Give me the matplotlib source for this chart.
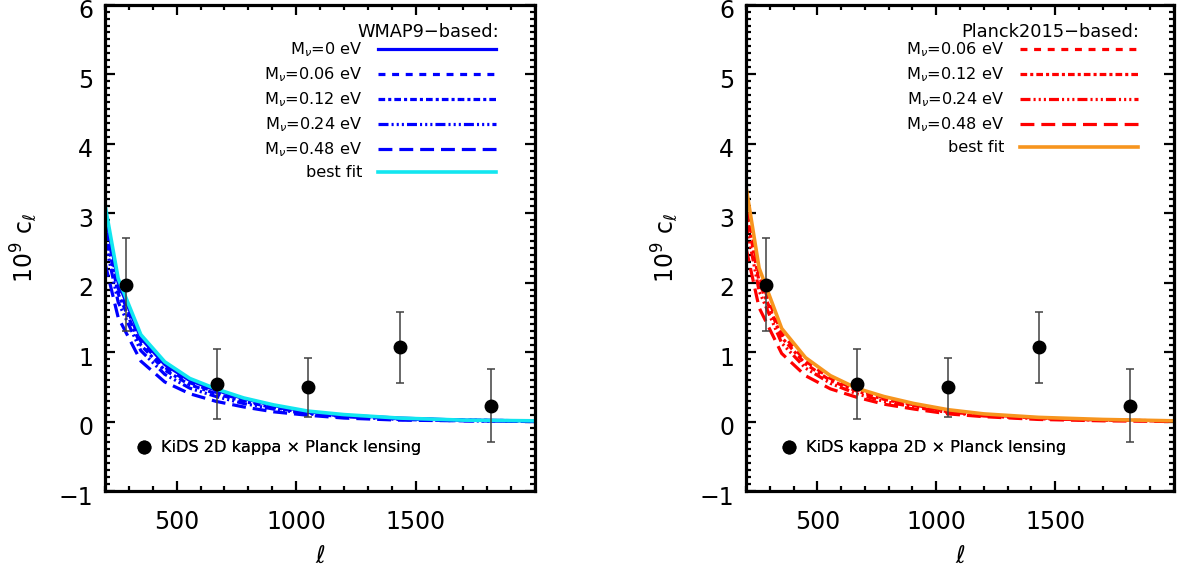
import numpy as np
import matplotlib
matplotlib.use("Agg")
import matplotlib.pyplot as plt
import matplotlib.transforms as mtransforms
from matplotlib.ticker import MultipleLocator

plt.rcParams['font.family'] = ['DejaVu Sans']
plt.rcParams['mathtext.fontset'] = 'dejavusans'
plt.rcParams['lines.scale_dashes'] = False

# KiDS x Planck lensing band powers (same in both panels)
ell_data = [286, 668, 1050, 1434, 1816]
cl_data = [1.97, 0.54, 0.49, 1.07, 0.23]
cl_err = [0.67, 0.50, 0.42, 0.51, 0.52]

# model sampling in ell
ell_model = [200, 255, 350, 450, 555, 665, 780, 905, 1050, 1200, 1430, 1700, 2000]

# WMAP9-based models
wmap_m000 = [3.02, 2.00, 1.20, 0.82, 0.59, 0.45, 0.33, 0.23, 0.14, 0.09, 0.05, 0.02, 0.01]
wmap_m006 = [2.90, 1.92, 1.15, 0.78, 0.56, 0.42, 0.31, 0.21, 0.13, 0.08, 0.04, 0.02, 0.01]
wmap_m012 = [2.78, 1.84, 1.10, 0.74, 0.53, 0.40, 0.29, 0.20, 0.12, 0.08, 0.04, 0.02, 0.01]
wmap_m024 = [2.60, 1.72, 1.02, 0.68, 0.48, 0.36, 0.26, 0.18, 0.11, 0.07, 0.03, 0.01, 0.00]
wmap_m048 = [2.28, 1.50, 0.87, 0.57, 0.40, 0.29, 0.21, 0.14, 0.09, 0.05, 0.02, 0.01, 0.00]
wmap_best = [3.12, 2.06, 1.25, 0.86, 0.62, 0.47, 0.34, 0.24, 0.15, 0.10, 0.05, 0.02, 0.01]

# Planck2015-based models
planck_m006 = [3.20, 2.10, 1.27, 0.87, 0.62, 0.46, 0.34, 0.24, 0.15, 0.10, 0.05, 0.02, 0.01]
planck_m012 = [3.05, 2.01, 1.21, 0.83, 0.59, 0.44, 0.32, 0.23, 0.14, 0.09, 0.05, 0.02, 0.01]
planck_m024 = [2.85, 1.88, 1.13, 0.77, 0.55, 0.40, 0.29, 0.21, 0.13, 0.08, 0.04, 0.02, 0.01]
planck_m048 = [2.50, 1.64, 0.98, 0.66, 0.47, 0.35, 0.25, 0.18, 0.11, 0.07, 0.03, 0.01, 0.00]
planck_best = [3.38, 2.21, 1.34, 0.92, 0.66, 0.48, 0.36, 0.26, 0.17, 0.11, 0.06, 0.03, 0.01]

mnu_labels = [r'M$_\nu$=0 eV', r'M$_\nu$=0.06 eV', r'M$_\nu$=0.12 eV',
              r'M$_\nu$=0.24 eV', r'M$_\nu$=0.48 eV']

xticks = [500, 1000, 1500]
yticks = [-1, 0, 1, 2, 3, 4, 5, 6]
yticklabels = ['\u22121', '0', '1', '2', '3', '4', '5', '6']

STYLES = {
    'solid': '-',
    'dash': (0, (5, 4.8)),
    'dashdot': (0, (4.8, 2.2, 2.2, 2.2)),
    'dash3dot': (0, (7.2, 2.2, 1.5, 2.2, 1.5, 2.2, 1.5, 2.2)),
    'longdash': (0, (10, 5)),
}

TICKSIZE = 17
LEGSIZE = 11.6
TITLESIZE = 12.8
LW = 2.3

fig = plt.figure(figsize=(11.78, 5.67), dpi=100)
ax_l = fig.add_axes([105 / 1178, 76 / 567, 430 / 1178, 486.3 / 567])
ax_r = fig.add_axes([746 / 1178, 76 / 567, 428 / 1178, 486.3 / 567])


def style_axes(ax):
    ax.set_xlim(200, 2000)
    ax.set_ylim(-1, 6)
    ax.set_xticks(xticks)
    ax.xaxis.set_minor_locator(MultipleLocator(100))
    ax.set_yticks(yticks)
    ax.set_yticklabels(yticklabels)
    ax.yaxis.set_minor_locator(MultipleLocator(0.1))
    ax.tick_params(which='both', direction='in', top=True, right=True, width=1.6)
    ax.tick_params(which='major', length=7)
    ax.tick_params(which='minor', length=3.5)
    ax.tick_params(axis='x', which='major', labelsize=TICKSIZE, pad=14)
    ax.tick_params(axis='y', which='major', labelsize=TICKSIZE, pad=8.5)
    for s in ax.spines.values():
        s.set_linewidth(2.3)
    # IDL puts y labels a little below their tick
    off = mtransforms.ScaledTranslation(0, -3 / 72, fig.dpi_scale_trans)
    for lab in ax.get_yticklabels():
        lab.set_transform(lab.get_transform() + off)
    ax.set_xlabel(r'$\ell$', fontsize=TICKSIZE, labelpad=6.5)
    ax.set_ylabel(r'10$^9$ c$_\ell$', fontsize=TICKSIZE, labelpad=14)


def draw_data(ax, label, anchor):
    ax.errorbar(ell_data, cl_data, yerr=cl_err, fmt='none', ecolor='#404040',
                elinewidth=1.1, capsize=2.6, capthick=1.1, zorder=5)
    pts, = ax.plot(ell_data, cl_data, 'o', color='black', ms=9, zorder=6, label=label)
    leg = ax.legend(handles=[pts], loc='lower left', bbox_to_anchor=anchor,
                    frameon=False, fontsize=LEGSIZE, handlelength=1.0,
                    handletextpad=0.55, borderpad=0, numpoints=1)
    ax.add_artist(leg)


def model_legend(ax, handles, title, xr, xt):
    ax.text(xt, 0.944, title, transform=ax.transAxes, ha='right', va='center',
            fontsize=TITLESIZE)
    leg = ax.legend(handles=handles, loc='upper right', bbox_to_anchor=(xr, 0.9265),
                    frameon=False, fontsize=LEGSIZE, markerfirst=False,
                    handlelength=7.3, handletextpad=1.0, labelspacing=0.39,
                    borderpad=0, borderaxespad=0)
    ax.add_artist(leg)


# left panel: WMAP9
style_axes(ax_l)
blue = '#0000ff'
h = []
h += ax_l.plot(ell_model, wmap_m000, color=blue, lw=LW, ls=STYLES['solid'], label=mnu_labels[0])
h += ax_l.plot(ell_model, wmap_m006, color=blue, lw=LW, ls=STYLES['dash'], label=mnu_labels[1])
h += ax_l.plot(ell_model, wmap_m012, color=blue, lw=LW, ls=STYLES['dashdot'], label=mnu_labels[2])
h += ax_l.plot(ell_model, wmap_m024, color=blue, lw=LW, ls=STYLES['dash3dot'], label=mnu_labels[3])
h += ax_l.plot(ell_model, wmap_m048, color=blue, lw=LW, ls=STYLES['longdash'], label=mnu_labels[4])
h += ax_l.plot(ell_model, wmap_best, color='#12e6f0', lw=LW + 0.3, label='best fit')
model_legend(ax_l, h, 'WMAP9\u2212based:', 0.909, 0.916)
draw_data(ax_l, 'KiDS 2D kappa \u00d7 Planck lensing', (0.054, 0.057))

# right panel: Planck2015
style_axes(ax_r)
red = '#ff0000'
h = []
h += ax_r.plot(ell_model, planck_m006, color=red, lw=LW, ls=STYLES['dash'], label=mnu_labels[1])
h += ax_r.plot(ell_model, planck_m012, color=red, lw=LW, ls=STYLES['dashdot'], label=mnu_labels[2])
h += ax_r.plot(ell_model, planck_m024, color=red, lw=LW, ls=STYLES['dash3dot'], label=mnu_labels[3])
h += ax_r.plot(ell_model, planck_m048, color=red, lw=LW, ls=STYLES['longdash'], label=mnu_labels[4])
h += ax_r.plot(ell_model, planck_best, color='#f7951e', lw=LW + 0.3, label='best fit')
model_legend(ax_r, h, 'Planck2015\u2212based:', 0.916, 0.918)
draw_data(ax_r, 'KiDS kappa 2D \u00d7 Planck lensing', (0.062, 0.057))

fig.savefig('out.png', dpi=100)
